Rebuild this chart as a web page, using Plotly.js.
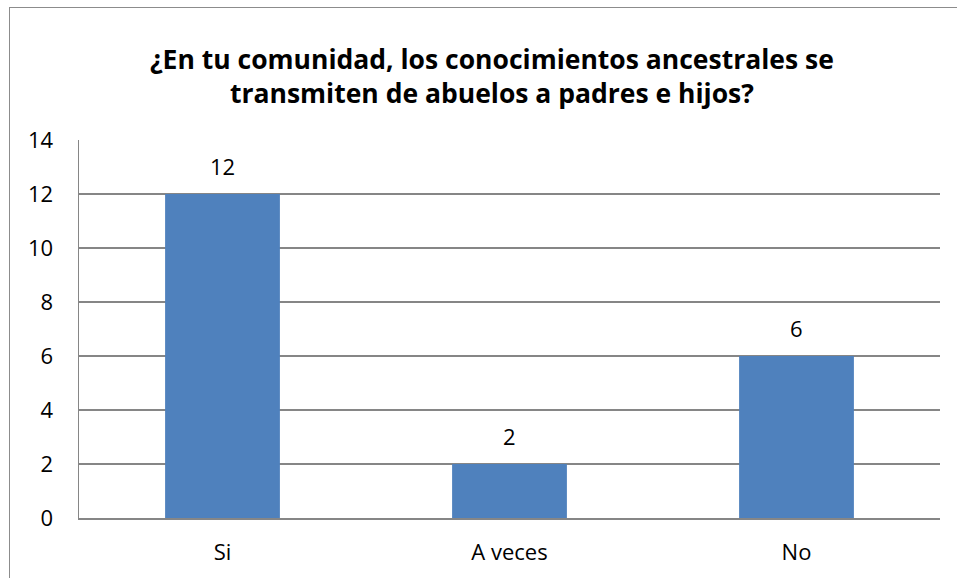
<!DOCTYPE html>
<html><head><meta charset="utf-8">
<script src="https://cdn.plot.ly/plotly-3.0.1.min.js"></script>
<style>
html,body{margin:0;padding:0;width:957px;height:578px;overflow:hidden;background:#fff;}
#chart{position:absolute;left:9px;top:7px;width:960px;height:580px;border:1.5px solid #8c8c8c;box-sizing:border-box;}
</style></head>
<body><div id="chart"></div>
<script>
const categories = ["Si", "A veces", "No"];
const values = [12, 2, 6];
const yTicks = [0, 2, 4, 6, 8, 10, 12, 14];
const titleText = "¿En tu comunidad, los conocimientos ancestrales se<br>transmiten de abuelos a padres e hijos?";

const font = "'Open Sans', sans-serif";
const trace = {
  type: "bar", x: categories, y: values,
  marker: {color: "#4F81BD"}, width: 0.4, hoverinfo: "none"
};
const annotations = categories.map((c, i) => ({
  x: c, y: values[i], text: String(values[i]), showarrow: false,
  yanchor: "bottom", yshift: 11, font: {family: font, size: 22, color: "#000"}
}));
const layout = {
  width: 960, height: 580,
  margin: {l: 69, r: 30, t: 132, b: 70},
  paper_bgcolor: "#fff", plot_bgcolor: "#fff",
  showlegend: false,
  title: {text: titleText, x: 0.502, xanchor: "center", y: 0.895, yanchor: "top",
          font: {family: font, size: 26.5, color: "#000", weight: "bold"}},
  xaxis: {type: "category", showgrid: false, showline: true, linecolor: "#868686", linewidth: 1.5,
          ticks: "", tickfont: {family: font, size: 22, color: "#000"}, ticklabelstandoff: 14},
  yaxis: {range: [0, 14], tickvals: yTicks, showgrid: true, gridcolor: "#868686", gridwidth: 1.2,
          showline: true, linecolor: "#868686", linewidth: 1.5, ticks: "", zeroline: false,
          tickfont: {family: font, size: 22, color: "#000"}, ticklabelstandoff: 20},
  annotations: annotations
};
Plotly.newPlot("chart", [trace], layout, {displayModeBar: false, staticPlot: true});
</script></body></html>
